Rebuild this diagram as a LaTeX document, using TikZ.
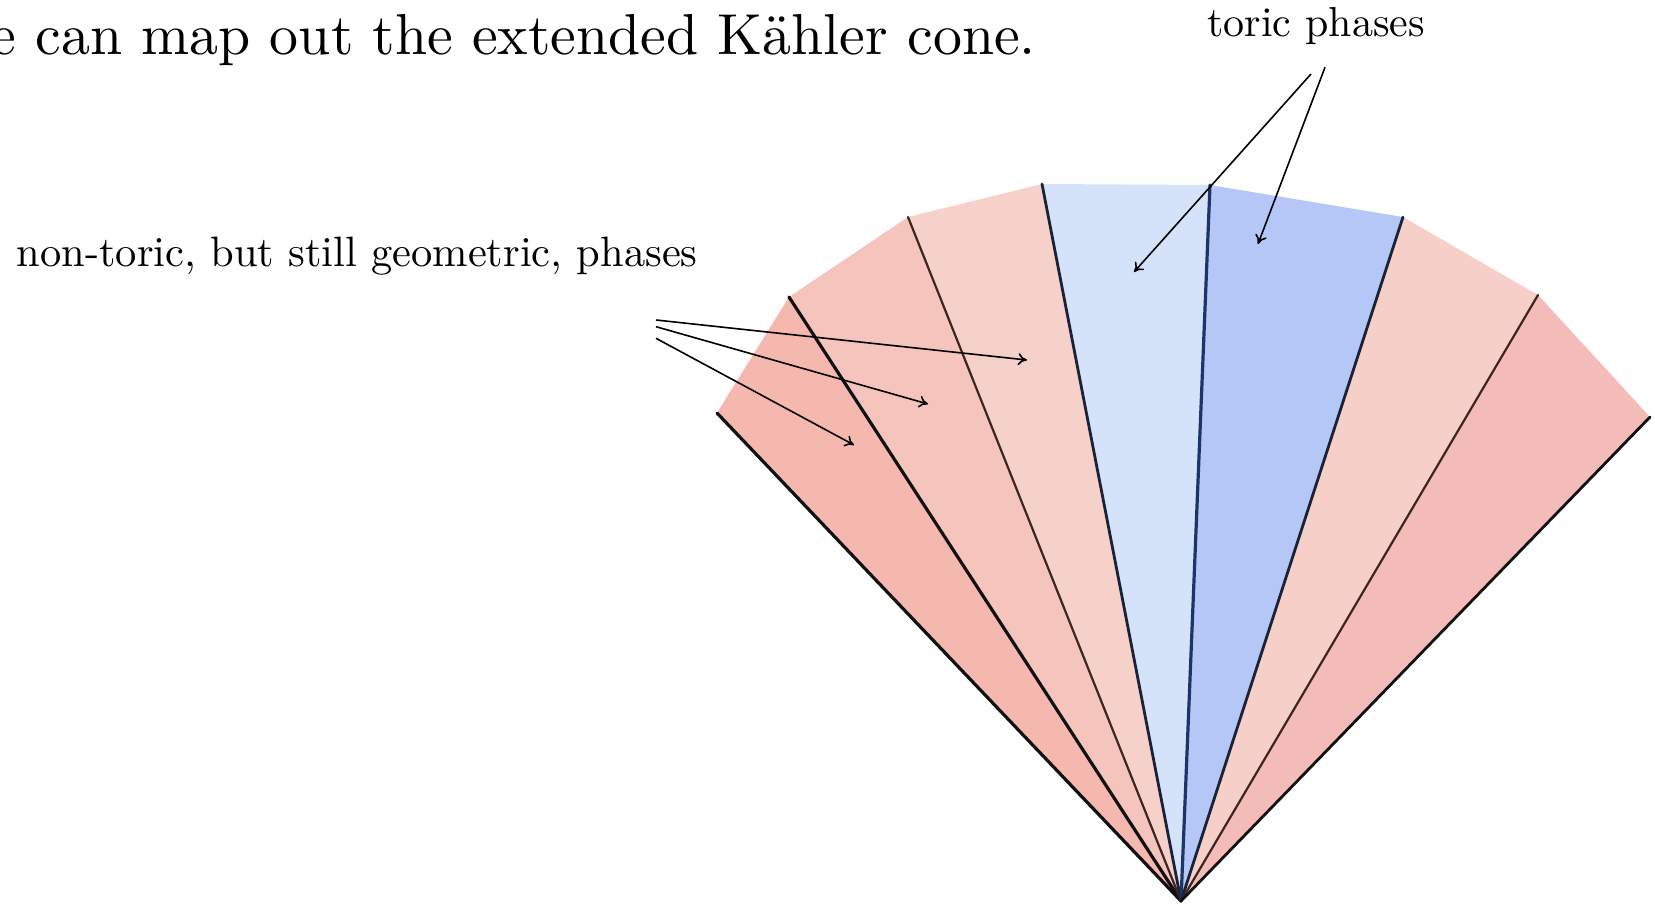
\documentclass[tikz,border=0pt]{standalone}
\usepackage{graphicx}
\usetikzlibrary{arrows.meta}
\definecolor{rA}{HTML}{F5B8AE}
\definecolor{rB}{HTML}{F5C4BD}
\definecolor{rC}{HTML}{F6D1C9}
\definecolor{bA}{HTML}{D4E3F9}
\definecolor{bB}{HTML}{B4C7F6}
\definecolor{rD}{HTML}{F6D0C8}
\definecolor{rE}{HTML}{F4BCB8}
\definecolor{lk}{HTML}{111111}
\definecolor{lbr}{HTML}{3D2622}
\definecolor{lnavy}{HTML}{1D3468}
\definecolor{ldark}{HTML}{1B2236}
\begin{document}
\begin{tikzpicture}[x=1pt,y=-1pt,
  txt/.style={inner sep=0pt, outer sep=0pt},
  ptr/.style={line width=1.6pt, draw=black, -{To[length=9pt,width=12pt]}},
  ray/.style={line cap=round, line join=round}]
\useasboundingbox (0,0) rectangle (1655,907);
\clip (0,0) rectangle (1655,907);
% fan points
\coordinate (A) at (1181,901);
\coordinate (P0) at (717,413);
\coordinate (P1) at (789,297);
\coordinate (P2) at (908,217);
\coordinate (P3) at (1042,184);
\coordinate (P4) at (1210,185);
\coordinate (P5) at (1403,217);
\coordinate (P6) at (1538,295);
\coordinate (P7) at (1650,417);
% fills
\fill[rA] (A) -- (P0) -- (P1) -- cycle;
\fill[rB] (A) -- (P1) -- (P2) -- cycle;
\fill[rC] (A) -- (P2) -- (P3) -- cycle;
\fill[bA] (A) -- (P3) -- (P4) -- cycle;
\fill[bB] (A) -- (P4) -- (P5) -- cycle;
\fill[rD] (A) -- (P5) -- (P6) -- cycle;
\fill[rE] (A) -- (P6) -- (P7) -- cycle;
% rays
\draw[ray, lk, line width=3.2pt] (A) -- (P0);
\draw[ray, lk, line width=3.2pt] (A) -- (P1);
\draw[ray, lbr, line width=2.2pt] (A) -- (P2);
\draw[ray, ldark, line width=2.8pt] (A) -- (P3);
\draw[ray, lnavy, line width=3.2pt] (A) -- (P4);
\draw[ray, ldark, line width=2.8pt] (A) -- (P5);
\draw[ray, lbr, line width=2.2pt] (A) -- (P6);
\draw[ray, lk, line width=2.8pt] (A) -- (P7);
% texts
\node[txt, anchor=base east] (title) at (1036,55)
  {\scalebox{5.78}{e can map out the extended Kähler cone.}};
\node[txt, anchor=base] (toric) at (1316,36.7)
  {\scalebox{4.2}{toric phases}};
\node[txt, anchor=base west] (nontoric) at (16.7,266)
  {\scalebox{4.25}{non-toric, but still geometric, phases}};
% arrows
\coordinate (n1s) at (656,320);
\coordinate (n2s) at (656,326.7);
\coordinate (n3s) at (656,338.3);
\coordinate (n1e) at (1027,360);
\coordinate (n2e) at (928,404);
\coordinate (n3e) at (854,445);
\coordinate (t1s) at (1311,74);
\coordinate (t2s) at (1325,67.3);
\coordinate (t1e) at (1134,272);
\coordinate (t2e) at (1258,244);
\draw[ptr] (n1s) -- (n1e);
\draw[ptr] (n2s) -- (n2e);
\draw[ptr] (n3s) -- (n3e);
\draw[ptr] (t1s) -- (t1e);
\draw[ptr] (t2s) -- (t2e);
\end{tikzpicture}
\end{document}
